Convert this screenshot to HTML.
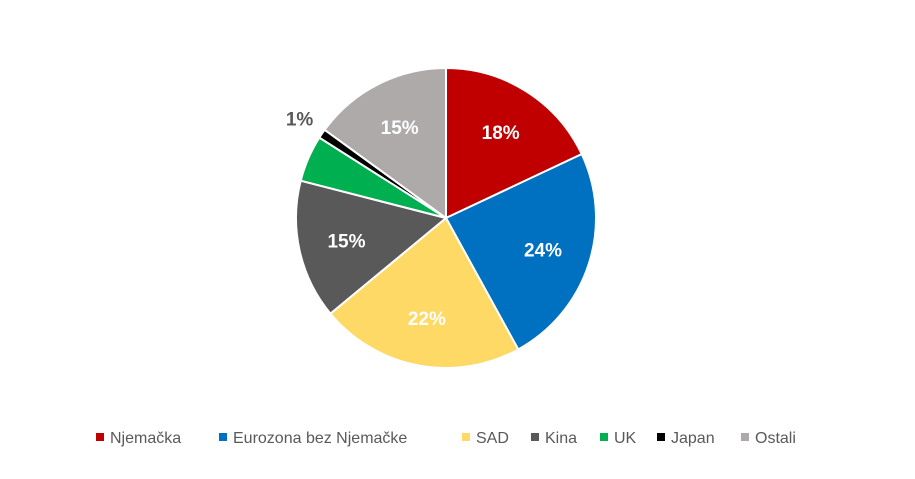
<!DOCTYPE html>
<html><head><meta charset="utf-8"><style>
body{margin:0;background:#fff;width:915px;height:474px;overflow:hidden;font-family:"Liberation Sans",sans-serif}
</style></head><body>
<svg id="chart" width="915" height="474" xmlns="http://www.w3.org/2000/svg"></svg>
<script>
const categories=["Njemačka","Eurozona bez Njemačke","SAD","Kina","UK","Japan","Ostali"];
const values=[18,24,22,15,5,1,15];
const labels=["18%","24%","22%","15%","","1%","15%"];
const colors=["#C00000","#0070C0","#FFD966","#595959","#00B050","#000000","#AEAAAA"];
const svg=document.getElementById('chart');
const NS="http://www.w3.org/2000/svg";
const cx=446,cy=218,r=150;
const total=values.reduce((a,b)=>a+b,0);
function pt(a,rr){return [cx+rr*Math.sin(a),cy-rr*Math.cos(a)];}
let start=0;
values.forEach((v,i)=>{
  const sw=v/total*2*Math.PI,end=start+sw;
  const [x1,y1]=pt(start,r),[x2,y2]=pt(end,r);
  const p=document.createElementNS(NS,'path');
  p.setAttribute('d',`M${cx},${cy}L${x1},${y1}A${r},${r} 0 ${sw>Math.PI?1:0} 1 ${x2},${y2}Z`);
  p.setAttribute('fill',colors[i]);p.setAttribute('stroke','#fff');p.setAttribute('stroke-width','2');
  
  
  svg.appendChild(p);
  if(labels[i]){
    const mid=start+sw/2;
    const outside=v<3;
    const [lx,ly]=outside?pt(mid,r+27):pt(mid,r*0.68);
    const t=document.createElementNS(NS,'text');
    t.setAttribute('x',lx);t.setAttribute('y',ly+7);
    t.setAttribute('text-anchor','middle');t.setAttribute('font-size','19');t.setAttribute('font-weight','bold');
    t.setAttribute('fill',outside?'#595959':'#fff');
    t.textContent=labels[i];
    
    
    svg.appendChild(t);
  }
  start=end;
});
// legend
const lg=document.createElementNS(NS,'g');


svg.appendChild(lg);
const widths=[90,210,36,36,24,51,53];
let x=96;
categories.forEach((c,i)=>{
  const g=document.createElementNS(NS,'g');
  
  
  const s=document.createElementNS(NS,'rect');
  s.setAttribute('x',x);s.setAttribute('y',433);s.setAttribute('width',8);s.setAttribute('height',8);s.setAttribute('fill',colors[i]);
  g.appendChild(s);
  const t=document.createElementNS(NS,'text');
  t.setAttribute('x',x+14);t.setAttribute('y',443);t.setAttribute('font-size','16');t.setAttribute('fill','#595959');
  t.textContent=c;g.appendChild(t);
  lg.appendChild(g);
  x+=14+widths[i]+19;
});
</script>
</body></html>
